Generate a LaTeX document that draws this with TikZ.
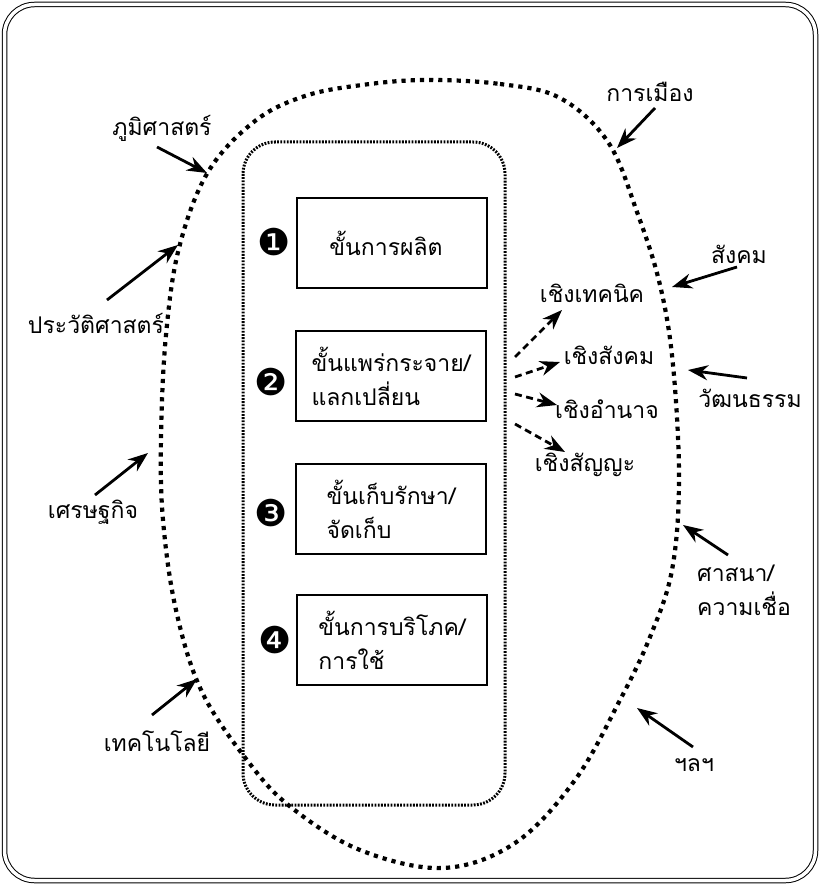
\documentclass[tikz,border=0pt]{standalone}
\usepackage{fontspec}
\setmainfont{Loma}[Script=Thai]
\newfontfamily\numfont{DejaVu Sans}
\usetikzlibrary{arrows.meta}
\newcommand\thaisize{\fontsize{23}{34}\selectfont\lineskiplimit=-40pt\relax}

\begin{document}
\begin{tikzpicture}[x=1pt, y=-1pt,
		every node/.style={font=\thaisize, inner sep=0pt},
		stage/.style={draw, line width=2.5pt, minimum width=190pt, minimum height=90pt, align=left},
		num/.style={font=\numfont\fontsize{37}{37}\selectfont},
		arr/.style={line width=2.8pt, -{Stealth[length=20pt, width=15pt]}},
		darr/.style={arr, dash pattern=on 7pt off 4.5pt}]
			\useasboundingbox (0,0) rectangle (820,885);
			% frame
			\draw [double, double distance=3.5pt, line width=1pt, rounded corners=30pt] (4.5,4.5) rectangle (815.5,880.5);
			% the large dotted oval
			\draw [line width=4.2pt, dash pattern=on 4.2pt off 5pt] plot [smooth cycle, tension=0.6] coordinates {
				(425,80) (500,84) (560,98) (608,142) (637,212) (660,285) (673,365) (679,480)
				(672,570) (650,637) (620,700) (575,780) (515,843) (443,868) (360,850)
				(292,808) (250,764) (202,692) (176,610) (163,520) (161,437) (166,335) (179,248)
				(208,172) (255,121) (305,96) (362,85)};
			% inner dotted box
			\draw [line width=3pt, dash pattern=on 1.8pt off 1.4pt, rounded corners=32pt] (243,142) rectangle (505,805);

			\node [stage] (prod) at (392,243) {ขั้นการผลิต\hspace{12pt}};
			\node [stage] (dist) at (391,376) {ขั้นแพร่กระจาย/\\แลกเปลี่ยน};
			\node [stage] (keep) at (391,509) {ขั้นเก็บรักษา/\\จัดเก็บ};
			\node [stage] (cons) at (392,640) {ขั้นการบริโภค/\\การใช้};

			\node [num] (n1) at (274,242) {❶};
			\node [num] (n2) at (271,382) {❷};
			\node [num] (n3) at (271,513) {❸};
			\node [num] (n4) at (275,640) {❹};

			\node (tech) at (592,293) {เชิงเทคนิค};
			\node (soc) at (609,355) {เชิงสังคม};
			\node (pow) at (607,409) {เชิงอำนาจ};
			\node (sym) at (585,465) {เชิงสัญญะ};

			\node (geo) at (162,128) {ภูมิศาสตร์};
			\node (hist) at (96,323) {ประวัติศาสตร์};
			\node (econ) at (93,512) {เศรษฐกิจ};
			\node (techno) at (157,741) {เทคโนโลยี};
			\node (pol) at (650,92) {การเมือง};
			\node (society) at (739,254) {สังคม};
			\node (cult) at (750,398) {วัฒนธรรม};
			\node [align=left, anchor=west] (rel) at (697,590) {ศาสนา/\\ความเชื่อ};
			\node (etc) at (694,765) {ฯลฯ};

			\coordinate (d1) at (515,357); \coordinate (t1) at (562,310);
			\coordinate (d2) at (515,377); \coordinate (t2) at (560,362);
			\coordinate (d3) at (515,394); \coordinate (t3) at (557,405);
			\coordinate (d4) at (515,424); \coordinate (t4) at (565,452);

			\coordinate (geoA) at (157,147); \coordinate (geoB) at (207,173);
			\coordinate (histA) at (107,300); \coordinate (histB) at (178,245);
			\coordinate (econA) at (95,495); \coordinate (econB) at (148,453);
			\coordinate (technoA) at (152,715); \coordinate (technoB) at (197,679);
			\coordinate (polA) at (655,108); \coordinate (polB) at (617,148);
			\coordinate (socA) at (737,267); \coordinate (socB) at (672,287);
			\coordinate (cultA) at (747,378); \coordinate (cultB) at (688,370);
			\coordinate (relA) at (728,555); \coordinate (relB) at (683,525);
			\coordinate (etcA) at (693,747); \coordinate (etcB) at (637,708);

			\draw [darr] (d1) to (t1);
			\draw [darr] (d2) to (t2);
			\draw [darr] (d3) to (t3);
			\draw [darr] (d4) to (t4);

			\draw [arr] (geoA) to (geoB);
			\draw [arr] (histA) to (histB);
			\draw [arr] (econA) to (econB);
			\draw [arr] (technoA) to (technoB);
			\draw [arr] (polA) to (polB);
			\draw [arr] (socA) to (socB);
			\draw [arr] (cultA) to (cultB);
			\draw [arr] (relA) to (relB);
			\draw [arr] (etcA) to (etcB);
		\end{tikzpicture}
\end{document}
